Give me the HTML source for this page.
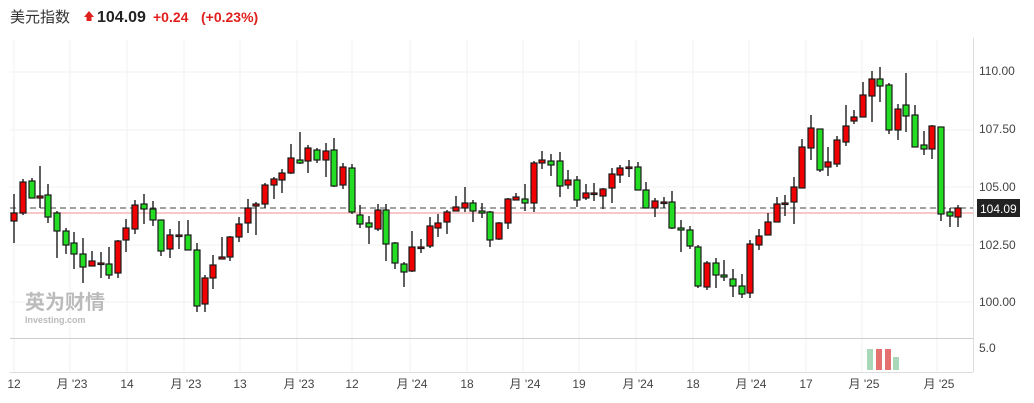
<!DOCTYPE html>
<html><head><meta charset="utf-8"><style>
html,body{margin:0;padding:0;background:#fff;width:1034px;height:403px;overflow:hidden}
svg{position:absolute;left:0;top:0}
text{font-family:"Liberation Sans","Noto Sans CJK SC",sans-serif}
</style></head><body>
<svg id="s" width="1034" height="403" xmlns="http://www.w3.org/2000/svg">
<text x="10" y="22" font-size="15" fill="#333">美元指数</text>
<polygon points="84,17 89,11 94,17 91.5,17 91.5,21 86.5,21 86.5,17" fill="#e0201e"/>
<text x="97" y="22" font-size="16" font-weight="bold" fill="#222">104.09</text>
<text x="153" y="22" font-size="14" font-weight="bold" fill="#e0201e">+0.24</text>
<text x="201" y="22" font-size="14" font-weight="bold" fill="#e0201e">(+0.23%)</text>
<g stroke="#f2f2f2" stroke-width="1" id="grid">
<line x1="10" x2="973" y1="72" y2="72"/><line x1="10" x2="973" y1="130" y2="130"/><line x1="10" x2="973" y1="187" y2="187"/><line x1="10" x2="973" y1="245" y2="245"/><line x1="10" x2="973" y1="302" y2="302"/>
</g>
<line x1="973.5" y1="38" x2="973.5" y2="372" stroke="#ddd"/>
<line x1="10" y1="338.5" x2="973" y2="338.5" stroke="#ccc"/>
<line x1="10" y1="372.5" x2="973" y2="372.5" stroke="#ddd"/>
<line x1="10" y1="213" x2="973" y2="213" stroke="#f8c8c8" stroke-width="2"/>
<line x1="10" y1="208" x2="973" y2="208" stroke="#444" stroke-dasharray="6,4"/>
<g id="c"></g>
<g font-size="12" fill="#444">
<text x="979" y="75">110.00</text><text x="979" y="133">107.50</text><text x="979" y="191">105.00</text><text x="979" y="249">102.50</text><text x="979" y="306">100.00</text><text x="979" y="352">5.0</text>
</g>
<rect x="977" y="199" width="43" height="18" fill="#222"/>
<text x="980" y="213" font-size="12" fill="#fff">104.09</text>
<g fill="#a8d8b8"><rect x="867" y="349" width="6" height="21"/><rect x="893" y="357" width="6" height="13"/></g>
<g fill="#e47070"><rect x="876" y="349" width="6" height="21"/><rect x="885" y="349" width="6" height="21"/></g>
<g font-size="12" fill="#444" text-anchor="middle" id="xl"></g>
<text x="25" y="309" font-size="20" font-weight="bold" fill="#bbb">英为财情</text>
<text x="25" y="323" font-size="9" font-weight="bold" fill="#bbb">Investing.com</text>
</svg>
<script>
var d=[[14,213,221,194,243,1],[23,182,213,179,215,1],[32,181,198,178,198,0],[40,196,198,166,208,1],[48,195,217,184,223,0],[57,213,231,211,258,0],[66,231,245,228,254,0],[74,243,254,232,269,0],[83,254,267,238,283,0],[92,261,266,251,266,1],[101,263,264,252,278,1],[109,264,275,247,279,0],[118,241,273,240,278,1],[126,228,240,219,252,1],[135,205,229,200,234,1],[144,204,209,194,224,0],[153,209,220,201,226,0],[161,220,251,220,256,0],[170,235,249,229,258,1],[179,235,236,221,249,1],[188,235,250,220,250,0],[197,250,306,243,312,0],[205,278,304,275,312,1],[213,265,278,255,289,1],[222,257,259,237,259,1],[230,237,257,236,261,1],[239,224,237,217,242,1],[248,208,223,199,233,1],[256,204,206,202,235,1],[265,185,204,183,208,1],[274,179,185,177,199,1],[282,173,180,169,193,1],[291,158,173,144,174,1],[300,160,163,132,164,0],[308,148,161,145,173,1],[317,150,160,148,163,0],[326,151,160,143,177,1],[334,150,186,138,187,0],[343,167,185,163,189,1],[352,168,212,164,214,0],[360,215,224,205,228,0],[369,223,227,216,244,0],[378,210,229,204,231,1],[386,210,244,204,261,0],[395,243,263,242,269,0],[404,264,272,262,287,0],[412,247,271,231,272,1],[421,247,248,239,253,1],[430,226,246,217,248,1],[438,223,228,214,237,1],[447,212,222,210,234,1],[456,207,211,196,211,1],[465,203,208,187,212,1],[473,203,211,200,222,0],[482,211,213,203,218,0],[490,212,240,211,247,0],[499,223,239,222,240,1],[508,199,223,198,229,1],[516,197,200,193,200,1],[525,199,203,184,211,0],[534,163,203,161,212,1],[542,160,163,151,169,1],[551,161,165,154,176,0],[560,161,186,152,197,0],[568,180,185,170,189,1],[577,180,200,176,207,0],[586,193,198,184,200,1],[594,193,194,183,201,1],[603,189,196,188,209,1],[612,174,188,168,203,1],[620,168,175,165,183,1],[629,167,168,160,177,1],[638,167,190,162,190,0],[646,190,208,182,208,0],[655,201,208,198,217,1],[664,202,203,197,208,1],[672,202,228,191,229,0],[681,228,230,220,252,0],[690,230,246,226,249,0],[698,247,286,245,288,0],[707,263,287,261,290,1],[716,263,275,258,288,0],[724,275,277,260,281,0],[733,279,286,269,297,0],[742,286,294,274,298,0],[750,244,293,240,298,1],[759,236,245,229,250,1],[768,222,235,213,235,1],[777,204,222,197,222,1],[785,203,204,195,216,1],[794,187,202,177,224,1],[802,147,188,139,188,1],[811,128,148,115,160,1],[820,129,170,129,172,0],[828,162,167,147,176,1],[837,140,164,136,167,1],[846,126,142,105,146,1],[854,117,121,110,124,1],[863,95,117,82,117,1],[872,79,96,71,122,1],[880,79,86,67,102,0],[889,85,130,83,134,0],[898,109,130,104,140,1],[906,105,116,73,132,0],[915,115,147,105,147,0],[924,145,149,131,155,0],[932,126,149,125,159,1],[941,127,214,127,221,0],[950,212,216,208,227,0],[958,208,217,205,227,1]];
var h='';d.forEach(function(c){var x=c[0];h+='<line x1="'+x+'" x2="'+x+'" y1="'+c[3]+'" y2="'+c[4]+'" stroke="#2a2a2a" stroke-width="1.5"/>';var bh=Math.max(c[2]-c[1],1.5);h+='<rect x="'+(x-3)+'" y="'+c[1]+'" width="6" height="'+bh+'" fill="'+(c[5]?'#f00000':'#22dd22')+'" stroke="#1a1a1a" stroke-width="1.2"/>';});
document.getElementById('c').innerHTML=h;
var g='',xs=[14,70,127,184,240,297,352,410,467,523,579,636,693,749,806,862,937];
xs.forEach(function(x){g+='<line x1="'+x+'" x2="'+x+'" y1="40" y2="372" stroke="#f2f2f2"/>';});
document.getElementById('grid').innerHTML+=g;
</script>
<svg width="1034" height="403" style="pointer-events:none"><g font-size="12" fill="#444" text-anchor="middle" font-family="Liberation Sans, Noto Sans CJK SC, sans-serif">
<text x="14" y="388">12</text><text x="72" y="388">月 '23</text><text x="127" y="388">14</text><text x="186" y="388">月 '23</text><text x="240" y="388">13</text><text x="299" y="388">月 '23</text><text x="352" y="388">12</text><text x="412" y="388">月 '24</text><text x="467" y="388">18</text><text x="525" y="388">月 '24</text><text x="579" y="388">19</text><text x="638" y="388">月 '24</text><text x="693" y="388">18</text><text x="751" y="388">月 '24</text><text x="806" y="388">17</text><text x="864" y="388">月 '25</text><text x="939" y="388">月 '25</text>
</g></svg>
</body></html>
